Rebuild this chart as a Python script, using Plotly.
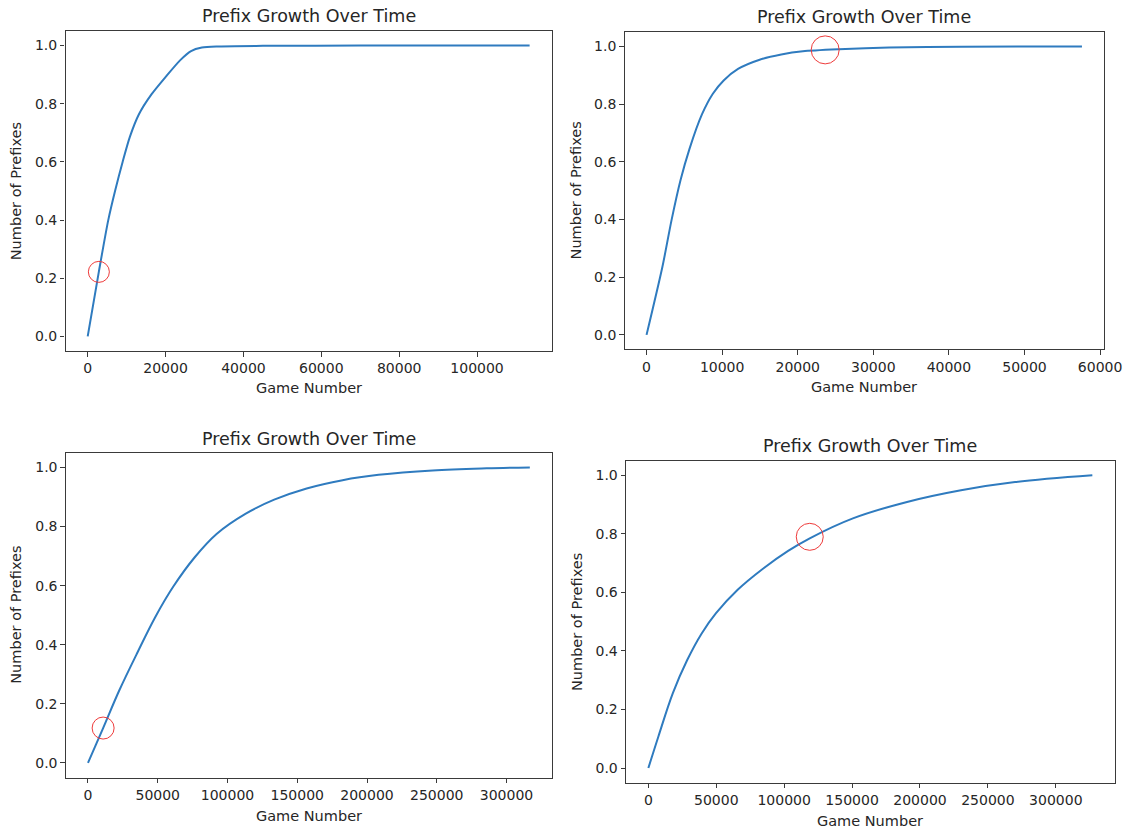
import plotly.graph_objects as go
from plotly.subplots import make_subplots

# ---------------- data ----------------
p1_x = [0, 2870, 5270, 7120, 8970, 10830, 13130, 16370, 20070, 23780, 26540, 29320, 33030, 45000, 70000, 113500]
p1_y = [0.0, 0.223, 0.399, 0.505, 0.600, 0.686, 0.763, 0.832, 0.893, 0.950, 0.981, 0.993, 0.997, 0.999, 1.0, 1.0]

p2_x = [0, 2100, 3300, 4490, 5680, 7340, 8770, 10200, 12100, 14960, 17820, 20680, 25440, 32100, 41620, 57600]
p2_y = [0.0, 0.236, 0.397, 0.536, 0.645, 0.765, 0.836, 0.882, 0.922, 0.954, 0.972, 0.983, 0.990, 0.996, 0.999, 1.0]

p3_x = [0, 10850, 22480, 35380, 48270, 61170, 76670, 92170, 112820, 133470, 156730, 182520, 208310, 247070, 285760, 316700]
p3_y = [0.0, 0.118, 0.246, 0.373, 0.494, 0.597, 0.697, 0.775, 0.843, 0.891, 0.929, 0.957, 0.975, 0.990, 0.997, 1.0]

p4_x = [0, 7390, 18030, 28600, 39250, 49820, 65750, 84360, 102900, 118820, 150610, 190440, 230190, 270020, 326900]
p4_y = [0.0, 0.108, 0.256, 0.369, 0.460, 0.529, 0.609, 0.681, 0.742, 0.785, 0.853, 0.909, 0.949, 0.977, 1.0]

# red highlight circles (one per panel)
circle_x = [2870, 23630, 10850, 118820]
circle_y = [0.222, 0.988, 0.118, 0.790]

x_dticks = [20000, 10000, 50000, 50000]
y_ticks = [0.0, 0.2, 0.4, 0.6, 0.8, 1.0]

title_text = "Prefix Growth Over Time"
xlabel_text = "Game Number"
ylabel_text = "Number of Prefixes"

# ---------------- styling / layout ----------------
W, H = 1148, 833
FONT = "DejaVu Sans"
TXT = "#262626"
LINE = "#2f7bbf"
FRAME = "#3a3a3a"
circle_sizes = [21, 28, 22, 27]
smoothings = [0.7, 0.7, 1.0, 1.0]

# plot frames in pixels: (left, right, top, bottom)
frames = [(66.7, 561.0, 31.0, 351.0),
          (635.3, 1122.3, 32.0, 349.3),
          (67.0, 561.2, 452.7, 777.7),
          (636.7, 1133.3, 460.7, 782.7)]
title_y = [16, 17, 439, 446]
xlabel_y = [388, 387, 816, 821]
ylabel_x = [16.5, 585.5, 16.8, 586]

series = [(p1_x, p1_y), (p2_x, p2_y), (p3_x, p3_y), (p4_x, p4_y)]

fig = make_subplots(rows=2, cols=2)
annotations = []
for i, (xs, ys) in enumerate(series):
    r, c = i // 2 + 1, i % 2 + 1
    fig.add_trace(go.Scatter(x=xs, y=ys, mode="lines",
                             line=dict(color=LINE, width=2, shape="spline", smoothing=smoothings[i]),
                             showlegend=False, hoverinfo="skip"), row=r, col=c)
    fig.add_trace(go.Scatter(x=[circle_x[i]], y=[circle_y[i]], mode="markers",
                             marker=dict(symbol="circle-open", size=circle_sizes[i],
                                         color="#ee3b3b", line=dict(width=1, color="#ee3b3b")),
                             showlegend=False, hoverinfo="skip"), row=r, col=c)
    xmin, xmax = min(xs), max(xs)
    pad = 0.05 * (xmax - xmin)
    ymin, ymax = min(ys), max(ys)
    ypad = 0.05 * (ymax - ymin)
    L, R, T, B = frames[i]
    sfx = "" if i == 0 else str(i + 1)
    fig.layout["xaxis" + sfx].update(
        domain=[L / W, R / W], range=[xmin - pad, xmax + pad],
        dtick=x_dticks[i], tick0=0, tickformat="d",
        showgrid=False, zeroline=False, showline=True, mirror=True,
        linecolor=FRAME, linewidth=1.2, ticks="outside", ticklen=4.5, tickwidth=1,
        tickcolor=FRAME, tickfont=dict(family=FONT, size=14, color=TXT))
    fig.layout["yaxis" + sfx].update(
        domain=[1 - B / H, 1 - T / H], range=[ymin - ypad, ymax + ypad],
        tickvals=y_ticks, tickformat=".1f",
        showgrid=False, zeroline=False, showline=True, mirror=True,
        linecolor=FRAME, linewidth=1.2, ticks="outside", ticklen=4.5, tickwidth=1,
        tickcolor=FRAME, tickfont=dict(family=FONT, size=14, color=TXT))
    cx = (L + R) / 2 / W
    annotations.append(dict(text=title_text, x=cx, y=1 - title_y[i] / H, xref="paper", yref="paper",
                            xanchor="center", yanchor="middle", showarrow=False,
                            font=dict(family=FONT, size=17.5, color=TXT)))
    annotations.append(dict(text=xlabel_text, x=cx, y=1 - xlabel_y[i] / H, xref="paper", yref="paper",
                            xanchor="center", yanchor="middle", showarrow=False,
                            font=dict(family=FONT, size=14.5, color=TXT)))
    annotations.append(dict(text=ylabel_text, x=ylabel_x[i] / W, y=1 - (T + B) / 2 / H,
                            xref="paper", yref="paper", textangle=-90,
                            xanchor="center", yanchor="middle", showarrow=False,
                            font=dict(family=FONT, size=14.5, color=TXT)))

fig.update_layout(width=W, height=H, margin=dict(l=0, r=0, t=0, b=0),
                  paper_bgcolor="white", plot_bgcolor="white",
                  annotations=annotations, showlegend=False)

fig.write_html("out.html")
